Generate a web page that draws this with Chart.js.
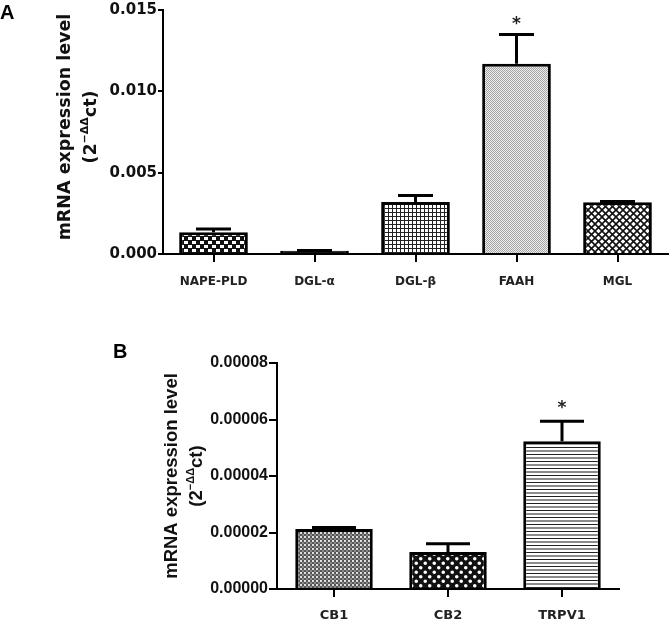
<!DOCTYPE html>
<html>
<head>
<meta charset="utf-8">
<script src="https://cdn.jsdelivr.net/npm/chart.js@4.4.0/dist/chart.umd.min.js"></script>
<style>
  html, body { margin: 0; padding: 0; background: #fff; }
  #wrap { position: relative; width: 670px; height: 624px; }
  canvas { position: absolute; left: 0; }
  #chartA { top: 0; }
  #chartB { top: 300px; }
</style>
</head>
<body>
<div id="wrap">
  <canvas id="chartA" width="670" height="300"></canvas>
  <canvas id="chartB" width="670" height="324"></canvas>
</div>
<script>
// panel A: endocannabinoid enzymes
const categoriesA = ['NAPE-PLD', 'DGL-\u03b1', 'DGL-\u03b2', 'FAAH', 'MGL'];
const meansA = [0.00133, 0.0002, 0.0032, 0.0117, 0.00318];
const semA = [0.0002, 0.00001, 0.0004, 0.0018, 0.00005];
const starsA = ['', '', '', '*', ''];
const ticksA = [0, 0.005, 0.010, 0.015];

// panel B: receptors
const categoriesB = ['CB1', 'CB2', 'TRPV1'];
const meansB = [0.0000212, 0.0000131, 0.0000523];
const semB = [0.0000006, 0.0000029, 0.0000071];
const starsB = ['', '', '*'];
const ticksB = [0, 0.00002, 0.00004, 0.00006, 0.00008];

// small tiles for the bar fills
function makeTile(w, h, draw) {
    const c = document.createElement('canvas');
    c.width = w;
    c.height = h;
    const g = c.getContext('2d');
    draw(g);
    return document.createElement('canvas').getContext('2d').createPattern(c, 'repeat');
}

const checkerPattern = makeTile(8, 8, g => {
    g.fillStyle = '#111';
    g.fillRect(0, 0, 8, 8);
    g.fillStyle = '#fff';
    g.fillRect(0, 1, 4, 3);
    g.fillRect(4, 5, 4, 3);
});
const gridPattern = makeTile(4, 4, g => {
    g.fillStyle = '#fff';
    g.fillRect(0, 0, 4, 4);
    g.fillStyle = '#222';
    g.fillRect(0, 0, 4, 1);
    g.fillRect(0, 0, 1, 4);
});
const dotPattern = makeTile(2, 2, g => {
    g.fillStyle = '#ececec';
    g.fillRect(0, 0, 2, 2);
    g.fillStyle = '#a6a6a6';
    g.fillRect(0, 0, 1, 1);
    g.fillRect(1, 1, 1, 1);
});
const diamondPattern = makeTile(7, 7, g => {
    g.fillStyle = '#fff';
    g.fillRect(0, 0, 7, 7);
    g.strokeStyle = '#111';
    g.lineWidth = 1.6;
    g.beginPath();
    g.moveTo(-1, -1); g.lineTo(8, 8);
    g.moveTo(8, -1); g.lineTo(-1, 8);
    g.stroke();
});
const grayCheckPattern = makeTile(4, 4, g => {
    g.fillStyle = '#555';
    g.fillRect(0, 0, 4, 4);
    g.fillStyle = '#e0e0e0';
    g.fillRect(0, 0, 2, 2);
    g.fillStyle = '#8a8a8a';
    g.fillRect(2, 2, 2, 2);
});
const circlePattern = makeTile(9, 9, g => {
    g.fillStyle = '#111';
    g.fillRect(0, 0, 9, 9);
    g.fillStyle = '#fff';
    g.beginPath();
    g.arc(2.25, 2.25, 1.8, 0, Math.PI * 2);
    g.arc(6.75, 6.75, 1.8, 0, Math.PI * 2);
    g.fill();
});
const linePattern = makeTile(4, 7, g => {
    g.fillStyle = '#fff';
    g.fillRect(0, 0, 4, 7);
    g.fillStyle = '#222';
    g.fillRect(0, 0, 4, 1);
    g.fillStyle = '#8c8c8c';
    g.fillRect(0, 3, 4, 2);
});

const fillsA = [checkerPattern, '#111', gridPattern, dotPattern, diamondPattern];
const fillsB = [grayCheckPattern, circlePattern, linePattern];

// error bars and significance stars, placed through the y scale
const errorBars = {
    id: 'errorBars',
    afterDatasetsDraw(chart, args, opts) {
        const ctx = chart.ctx;
        const y = chart.scales.y;
        const meta = chart.getDatasetMeta(0);
        ctx.save();
        ctx.strokeStyle = '#000';
        ctx.lineWidth = 3;
        meta.data.forEach((bar, i) => {
            const top = y.getPixelForValue(opts.means[i]);
            const cap = y.getPixelForValue(opts.means[i] + opts.sem[i]);
            ctx.beginPath();
            ctx.moveTo(bar.x, top);
            ctx.lineTo(bar.x, cap);
            ctx.moveTo(bar.x - opts.capWidth / 2, cap);
            ctx.lineTo(bar.x + opts.capWidth / 2, cap);
            ctx.stroke();
            if (opts.stars[i]) {
                ctx.fillStyle = '#222';
                ctx.font = 'bold 17px "DejaVu Sans"';
                ctx.textAlign = 'center';
                ctx.textBaseline = 'middle';
                ctx.fillText(opts.stars[i], bar.x, cap - opts.starGap);
            }
        });
        ctx.restore();
    }
};

// two line rotated y title with the 2^-ddct superscript
const yTitle = {
    id: 'yTitle',
    afterDraw(chart, args, opts) {
        const ctx = chart.ctx;
        const area = chart.chartArea;
        const cy = (area.top + area.bottom) / 2 + opts.shift;
        ctx.save();
        ctx.fillStyle = '#111';
        ctx.textBaseline = 'middle';

        ctx.save();
        ctx.translate(opts.x1, cy);
        ctx.rotate(-Math.PI / 2);
        ctx.font = 'bold ' + opts.size + 'px ' + opts.family;
        ctx.textAlign = 'center';
        ctx.fillText('mRNA expression level', 0, 0);
        ctx.restore();

        ctx.save();
        ctx.translate(opts.x2, cy);
        ctx.rotate(-Math.PI / 2);
        const big = 'bold ' + opts.size + 'px ' + opts.family;
        const small = 'bold ' + Math.round(opts.size * 0.62) + 'px ' + opts.family;
        ctx.font = big;
        const w1 = ctx.measureText('(2').width;
        const w3 = ctx.measureText('ct)').width;
        ctx.font = small;
        const w2 = ctx.measureText('\u2212\u0394\u0394').width;
        let x = -(w1 + w2 + w3) / 2;
        ctx.textAlign = 'left';
        ctx.font = big;
        ctx.fillText('(2', x, 0);
        x += w1;
        ctx.font = small;
        ctx.fillText('\u2212\u0394\u0394', x, -opts.size * 0.35);
        x += w2;
        ctx.font = big;
        ctx.fillText('ct)', x, 0);
        ctx.restore();

        ctx.font = 'bold 20px "Liberation Sans"';
        ctx.textAlign = 'left';
        ctx.textBaseline = 'top';
        ctx.fillStyle = '#000';
        ctx.fillText(opts.letter, opts.letterX, opts.letterY);
        ctx.restore();
    }
};

function buildChart(id, cfg) {
    return new Chart(document.getElementById(id), {
        type: 'bar',
        data: {
            labels: cfg.labels,
            datasets: [{
                data: cfg.means,
                backgroundColor: cfg.fills,
                borderColor: '#000',
                borderWidth: 3,
                borderSkipped: 'bottom',
                barPercentage: 0.68,
                categoryPercentage: 1
            }]
        },
        options: {
            responsive: false,
            animation: false,
            layout: { padding: cfg.padding },
            plugins: {
                legend: { display: false },
                tooltip: { enabled: false },
                errorBars: {
                    means: cfg.means, sem: cfg.sem, stars: cfg.stars,
                    capWidth: cfg.capWidth, starGap: cfg.starGap
                },
                yTitle: cfg.title
            },
            scales: {
                x: {
                    afterFit: s => { s.height = cfg.xHeight; },
                    border: { display: true, color: '#000', width: 2 },
                    grid: {
                        offset: false, drawOnChartArea: false, drawTicks: true,
                        tickLength: cfg.xTick, color: '#000', lineWidth: 2
                    },
                    ticks: {
                        color: '#222', padding: cfg.xPad, maxRotation: 0,
                        font: { family: 'DejaVu Sans', weight: 'bold', size: cfg.xFont }
                    }
                },
                y: {
                    min: 0,
                    max: cfg.yTicks[cfg.yTicks.length - 1],
                    afterFit: s => { s.width = cfg.yWidth; },
                    afterBuildTicks: s => { s.ticks = cfg.yTicks.map(v => ({ value: v })); },
                    border: { display: true, color: '#000', width: 2 },
                    grid: {
                        drawOnChartArea: false, drawTicks: true,
                        tickLength: cfg.yTick, color: '#000', lineWidth: 2
                    },
                    ticks: {
                        color: '#111', padding: 1,
                        callback: v => v.toFixed(cfg.decimals),
                        font: { family: cfg.yFamily, weight: 'bold', size: cfg.yFont }
                    }
                }
            }
        },
        plugins: [errorBars, yTitle]
    });
}

buildChart('chartA', {
    labels: categoriesA, means: meansA, sem: semA, stars: starsA, fills: fillsA,
    yTicks: ticksA, decimals: 3,
    padding: { top: 10, right: 2, left: 0, bottom: 0 },
    yWidth: 163, xHeight: 46, xTick: 8, xPad: 13, xFont: 12, yTick: 5,
    yFamily: 'DejaVu Sans', yFont: 15,
    capWidth: 35, starGap: 10,
    title: { x1: 65, x2: 91, size: 17.5, family: '"DejaVu Sans"', shift: -5, letter: 'A', letterX: 0, letterY: 3 }
});

buildChart('chartB', {
    labels: categoriesB, means: meansB, sem: semB, stars: starsB, fills: fillsB,
    yTicks: ticksB, decimals: 5,
    padding: { top: 63, right: 51, left: 0, bottom: 0 },
    yWidth: 277, xHeight: 35, xTick: 8, xPad: 11, xFont: 13, yTick: 8,
    yFamily: 'Liberation Sans', yFont: 16,
    capWidth: 44, starGap: 13,
    title: { x1: 172, x2: 197, size: 18.5, family: '"Liberation Sans"', shift: 0, letter: 'B', letterX: 113, letterY: 42 }
});
</script>
</body>
</html>
